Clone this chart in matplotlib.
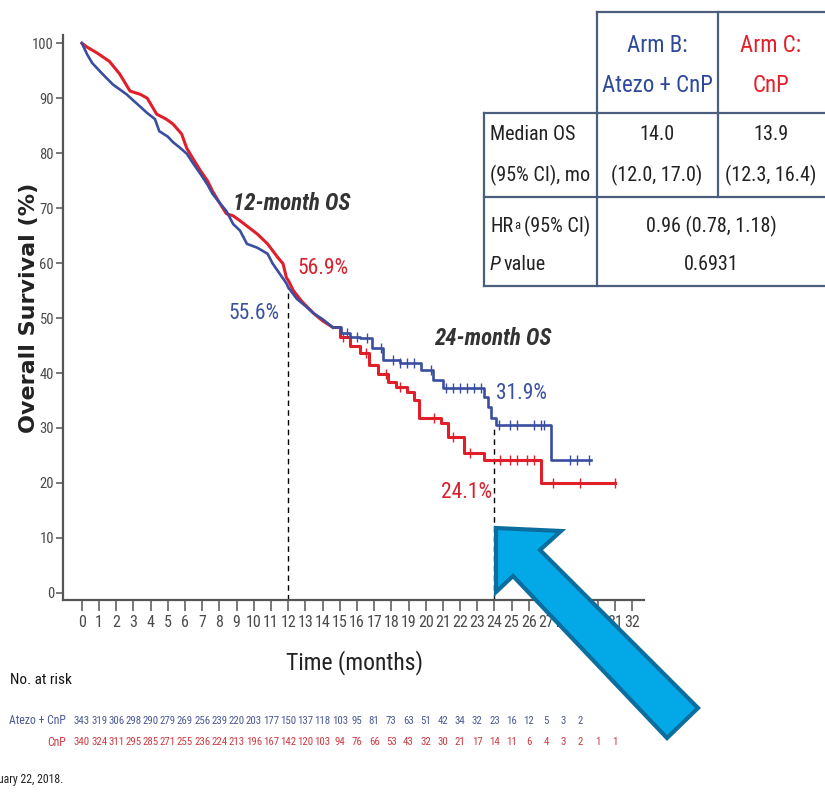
import os
import matplotlib
matplotlib.use("Agg")
import matplotlib.pyplot as plt
import matplotlib.transforms as mtransforms
from matplotlib import font_manager as fm
from matplotlib.patches import Polygon
from matplotlib.lines import Line2D

# ---------------- data ----------------
# Kaplan-Meier estimates (months, % surviving); dense early segment drawn as a trace,
# later segment drawn as steps
t_atezo_early = [0, 0.3, 0.6, 1.2, 1.8, 2.6, 3.2, 3.8, 4.25, 4.5, 5.0, 5.3, 5.7, 6.1, 6.5, 6.9,
                 7.3, 7.6, 8.0, 8.4, 8.8, 9.2, 9.6, 10.2, 10.8, 11.1, 11.5, 11.9, 12.0, 12.5, 13.0,
                 13.5, 14.0, 14.6]
s_atezo_early = [100, 98.0, 96.4, 94.4, 92.5, 90.7, 89.0, 87.3, 86.2, 84.0, 83.0, 82.0, 81.0,
                 79.9, 78.0, 76.2, 74.3, 72.6, 71.0, 69.5, 67.1, 65.9, 63.5, 62.8, 61.7, 59.9,
                 58.1, 56.3, 55.6, 53.5, 52.2, 50.8, 49.8, 48.3]
t_atezo_late = [14.6, 15.1, 15.6, 16.2, 16.9, 17.5, 18.5, 19.7, 20.4, 21.0, 23.4, 23.6, 23.8,
                24.1, 27.3, 29.6]
s_atezo_late = [48.3, 47.3, 46.5, 46.3, 44.6, 42.3, 41.9, 40.5, 38.7, 37.2, 35.6, 33.8, 31.9,
                30.6, 24.1, 24.1]

t_cnp_early = [0, 0.3, 0.9, 1.6, 2.2, 2.8, 3.4, 3.8, 4.35, 4.9, 5.3, 5.8, 6.1, 6.5, 6.9, 7.3,
               7.6, 8.0, 8.4, 8.8, 9.2, 9.7, 10.2, 10.8, 11.4, 11.7, 11.9, 12.0, 12.3, 12.8, 13.5,
               14.0, 14.6]
s_cnp_early = [100, 99.3, 98.2, 96.7, 94.4, 91.3, 90.7, 90.0, 87.1, 86.2, 85.3, 83.5, 80.9, 78.8,
               76.8, 75.0, 73.1, 71.0, 69.0, 68.6, 67.7, 66.5, 65.3, 63.5, 61.0, 59.9, 57.3,
               56.9, 55.0, 53.0, 50.8, 49.5, 48.3]
t_cnp_late = [14.6, 15.0, 15.6, 16.2, 16.7, 17.2, 17.8, 18.3, 18.9, 19.3, 19.6, 20.9, 21.3, 22.2,
              23.4, 26.7, 31.0]
s_cnp_late = [48.3, 46.5, 45.0, 43.6, 41.5, 39.9, 38.3, 37.5, 36.5, 35.0, 31.9, 30.9, 28.3, 25.4,
              24.1, 20.0, 20.0]

# censoring times
cens_atezo = [15.4, 16.0, 16.6, 17.4, 18.1, 18.5, 18.9, 19.3, 20.3, 21.2, 21.6, 22.0, 22.4, 22.8,
              23.2, 24.25, 24.9, 25.3, 26.3, 26.7, 26.9, 28.4, 28.8, 29.5]
cens_cnp = [15.2, 16.5, 17.7, 18.5, 20.5, 21.6, 22.6, 24.3, 24.9, 25.3, 25.9, 26.3, 27.4, 29.0,
            31.0]

# landmark survival
landmark_months = [12, 24]
os12 = {"atezo": 55.6, "cnp": 56.9}
os24 = {"atezo": 31.9, "cnp": 24.1}

# number at risk, month 0 onward
risk_atezo = [343, 319, 306, 298, 290, 279, 269, 256, 239, 220, 203, 177, 150, 137, 118, 103, 95,
              81, 73, 63, 51, 42, 34, 32, 23, 16, 12, 5, 3, 2]
risk_cnp = [340, 324, 311, 295, 285, 271, 255, 236, 224, 213, 196, 167, 142, 120, 103, 94, 76, 66,
            53, 43, 32, 30, 21, 17, 14, 11, 6, 4, 3, 2, 1, 1]

x_ticks = list(range(0, 33))
y_ticks = list(range(0, 101, 10))

BLUE = "#3a4ea0"
RED = "#e11f2b"
BLUE_TXT = "#3b519f"
RED_TXT = "#d8202c"
GRAY = "#4a4a4a"


# ---------------- condensed typeface lookup ----------------
def find_font(must_any, must_all=(), exclude=()):
    for e in fm.fontManager.ttflist:
        f = os.path.basename(e.fname).lower()
        if any(k in f for k in must_any) and all(k in f for k in must_all) \
                and not any(x in f for x in exclude):
            return e.fname
    return None


STYLE_WORDS = ("bold", "italic", "oblique", "light", "thin", "medium", "black", "semi", "extra")
REG_FILE = (find_font(("liberationsansnarrow-regular",))
            or find_font(("robotocondensed-regular",))
            or find_font(("dejavusanscondensed.ttf",))
            or find_font(("condensed", "narrow"), exclude=STYLE_WORDS))
BI_FILE = (find_font(("liberationsansnarrow-bolditalic",))
           or find_font(("robotocondensed-bolditalic",))
           or find_font(("dejavusanscondensed-boldoblique",))
           or find_font(("condensed", "narrow"), must_all=("bold",),
                        exclude=("semi", "extra", "light")))
IT_FILE = (find_font(("liberationsansnarrow-italic",))
           or find_font(("robotocondensed-italic",))
           or find_font(("dejavusanscondensed-oblique",)))


def nfont(size, bold_italic=False, italic=False):
    if bold_italic and BI_FILE:
        return fm.FontProperties(fname=BI_FILE, size=size)
    if italic and IT_FILE:
        return fm.FontProperties(fname=IT_FILE, size=size)
    if REG_FILE and not bold_italic and not italic:
        return fm.FontProperties(fname=REG_FILE, size=size)
    return fm.FontProperties(family="Roboto", size=size * 0.88,
                             weight="bold" if bold_italic else "normal",
                             style="italic" if (bold_italic or italic) else "normal")


W, H = 825, 807
fig = plt.figure(figsize=(W / 100, H / 100), dpi=100)
fig.patch.set_facecolor("white")


def fx(px):
    return px / W


def fy(py):
    return 1 - py / H


ax = fig.add_axes([fx(63), fy(600), fx(644) - fx(63), fy(35) - fy(600)])
ax.set_xlim(-1.1, 32.7)
ax.set_ylim(-1.3, 101.5)
for side in ("top", "right"):
    ax.spines[side].set_visible(False)
for side in ("left", "bottom"):
    ax.spines[side].set_color("#555555")
    ax.spines[side].set_linewidth(1.6)

ax.set_xticks(x_ticks)
ax.set_xticklabels([str(v) for v in x_ticks])
ax.set_yticks(y_ticks)
ax.set_yticklabels([str(v) for v in y_ticks])
for lbl in ax.get_xticklabels():
    lbl.set_fontproperties(nfont(11.5))
    lbl.set_color(GRAY)
for lbl in ax.get_yticklabels():
    lbl.set_fontproperties(nfont(10.5))
    lbl.set_color(GRAY)
ax.tick_params(axis="x", length=8, width=1.1, color="#555555", pad=3)
ax.tick_params(axis="y", length=5, width=1.1, color="#555555", pad=1.5)

# survival curves
ax.plot(t_cnp_early, s_cnp_early, color=RED, lw=2.2, zorder=3, solid_joinstyle="round")
ax.plot(t_cnp_late, s_cnp_late, drawstyle="steps-post", color=RED, lw=2.2, zorder=3)
ax.plot(t_atezo_early, s_atezo_early, color=BLUE, lw=1.9, zorder=4, solid_joinstyle="round")
ax.plot(t_atezo_late, s_atezo_late, drawstyle="steps-post", color=BLUE, lw=1.9, zorder=4)


def step_value(ts, ss, t):
    v = ss[0]
    for ti, si in zip(ts, ss):
        if ti <= t:
            v = si
    return v


ax.plot(cens_cnp, [step_value(t_cnp_late, s_cnp_late, c) for c in cens_cnp], ls="none",
        marker="|", ms=7, mew=1.0, color=RED, zorder=3)
ax.plot(cens_atezo, [step_value(t_atezo_late, s_atezo_late, c) for c in cens_atezo], ls="none",
        marker="|", ms=7, mew=1.0, color=BLUE, zorder=4)

# landmark guides
guide_tops = [os12["atezo"], step_value(t_atezo_late, s_atezo_late, 24.2)]
for m, top in zip(landmark_months, guide_tops):
    ax.plot([m, m], [-1.3, top], color="black", lw=1.0, ls=(0, (4, 3)), zorder=2)

ax.text(12.2, 70.8, "12-month OS", fontproperties=nfont(16.5, bold_italic=True),
        color="#333333", ha="center", va="center")
ax.text(14.0, 59.0, f"{os12['cnp']}%", fontproperties=nfont(15.5), color=RED_TXT,
        ha="center", va="center")
ax.text(10.0, 50.8, f"{os12['atezo']}%", fontproperties=nfont(15.5), color=BLUE_TXT,
        ha="center", va="center")
ax.text(23.9, 46.3, "24-month OS", fontproperties=nfont(16.5, bold_italic=True),
        color="#333333", ha="center", va="center")
ax.text(25.6, 36.3, f"{os24['atezo']}%", fontproperties=nfont(15.5), color=BLUE_TXT,
        ha="center", va="center")
ax.text(22.4, 18.3, f"{os24['cnp']}%", fontproperties=nfont(15.5), color=RED_TXT,
        ha="center", va="center")

# axis titles
fig.text(fx(29), fy(308), "Overall Survival (%)", rotation=90, ha="center", va="center",
         fontfamily="DejaVu Sans", fontweight="bold", fontsize=16, color="#222222")
fig.text(fx(355), fy(663), "Time (months)", ha="center", va="center",
         fontproperties=nfont(17), color="#222222")

# number at risk
blend = mtransforms.blended_transform_factory(ax.transData, fig.transFigure)
fig.text(fx(10), fy(680), "No. at risk", ha="left", va="center", fontproperties=nfont(11),
         color="#111111")
fig.text(fx(66), fy(721), "Atezo + CnP", ha="right", va="center", fontproperties=nfont(8.5),
         color="#4a5896")
fig.text(fx(66), fy(742), "CnP", ha="right", va="center", fontproperties=nfont(8.5),
         color="#cf3a42")
for i, n in enumerate(risk_atezo):
    ax.text(i, fy(721), str(n), transform=blend, ha="center", va="center",
            fontproperties=nfont(7.8), color="#4a5896")
for i, n in enumerate(risk_cnp):
    ax.text(i, fy(742), str(n), transform=blend, ha="center", va="center",
            fontproperties=nfont(7.8), color="#cf3a42")

fig.text(fx(63), fy(780), "January 22, 2018.", ha="right", va="center",
         fontproperties=nfont(8.5), color="#222222")

# summary table
TCOL = "#4b5f7c"


def hline(y, x0, x1):
    fig.add_artist(Line2D([fx(x0), fx(x1)], [fy(y), fy(y)], color=TCOL, lw=1.6))


def vline(x, y0, y1):
    fig.add_artist(Line2D([fx(x), fx(x)], [fy(y0), fy(y1)], color=TCOL, lw=1.6))


hline(12, 597, 825)
hline(113, 484, 825)
hline(197, 484, 825)
hline(286, 484, 825)
vline(597, 12, 286)
vline(718, 12, 197)
vline(484, 113, 286)

HEAD = nfont(16.5)
BODY = nfont(14.5)
fig.text(fx(657), fy(45), "Arm B:", color="#2d4a9a", ha="center", va="center", fontproperties=HEAD)
fig.text(fx(657), fy(85), "Atezo + CnP", color="#2d4a9a", ha="center", va="center",
         fontproperties=HEAD)
fig.text(fx(771), fy(45), "Arm C:", color="#e0202a", ha="center", va="center", fontproperties=HEAD)
fig.text(fx(771), fy(85), "CnP", color="#e0202a", ha="center", va="center", fontproperties=HEAD)
fig.text(fx(490), fy(135), "Median OS", color="#222222", ha="left", va="center",
         fontproperties=BODY)
fig.text(fx(490), fy(175), "(95% CI), mo", color="#222222", ha="left", va="center",
         fontproperties=BODY)
fig.text(fx(657), fy(135), "14.0", color="#222222", ha="center", va="center", fontproperties=BODY)
fig.text(fx(657), fy(175), "(12.0, 17.0)", color="#222222", ha="center", va="center",
         fontproperties=BODY)
fig.text(fx(771), fy(135), "13.9", color="#222222", ha="center", va="center", fontproperties=BODY)
fig.text(fx(771), fy(175), "(12.3, 16.4)", color="#222222", ha="center", va="center",
         fontproperties=BODY)

hr = fig.text(fx(490), fy(226), "HR", color="#222222", ha="left", va="center",
              fontproperties=BODY)
sup = ax.annotate("a", xy=(1, 1), xycoords=hr, xytext=(0.5, -1.5), textcoords="offset points",
                  ha="left", va="top", fontproperties=nfont(9), color="#222222",
                  annotation_clip=False)
ax.annotate("(95% CI)", xy=(1, 0.5), xycoords=(sup, hr), xytext=(3, 0),
            textcoords="offset points", ha="left", va="center", fontproperties=BODY,
            color="#222222", annotation_clip=False)
pv = fig.text(fx(490), fy(265), "P", color="#222222", ha="left", va="center",
              fontproperties=nfont(14.5, italic=True))
ax.annotate("value", xy=(1, 0.5), xycoords=pv, xytext=(2, 0), textcoords="offset points",
            ha="left", va="center", fontproperties=BODY, color="#222222", annotation_clip=False)
fig.text(fx(711), fy(226), "0.96 (0.78, 1.18)", color="#222222", ha="center", va="center",
         fontproperties=BODY)
fig.text(fx(711), fy(265), "0.6931", color="#222222", ha="center", va="center",
         fontproperties=BODY)

# call-out arrow pointing at the 24-month landmark
arrow_px = [(496, 528), (561, 531), (540, 550), (698, 708), (667, 738), (513, 576), (496, 592)]
arrow = Polygon([(fx(x), fy(y)) for x, y in arrow_px], closed=True, transform=fig.transFigure,
                facecolor="#03a9e6", edgecolor="#0c6e9f", lw=3.0, joinstyle="miter", zorder=10)
fig.add_artist(arrow)

fig.savefig("out.png", dpi=100, facecolor="white")
